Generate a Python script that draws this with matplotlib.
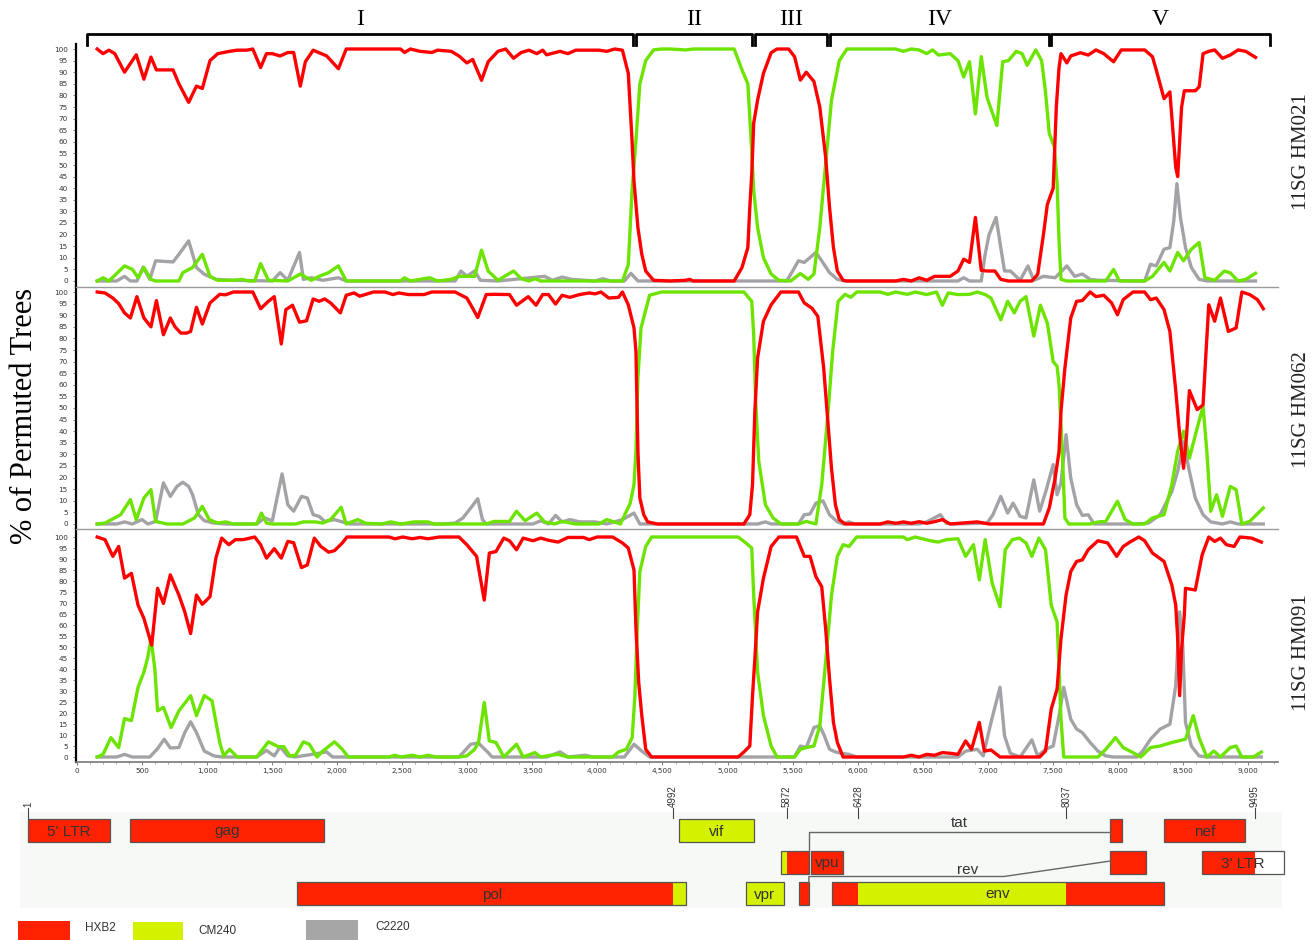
import matplotlib
matplotlib.use("Agg")
import matplotlib.pyplot as plt
from matplotlib.patches import Rectangle
from matplotlib.ticker import MultipleLocator, FuncFormatter

W, H = 1314, 940

# bootscan values (% of permuted trees) per query sequence
P1_RED = [(155, 100), (200, 98), (245, 99.5), (290, 98), (365, 90), (455, 97.5), (514, 87), (568, 96.5),
          (610, 91), (738, 91), (783, 85), (858, 77), (918, 84), (963, 83), (1022, 95), (1082, 98),
          (1172, 99), (1232, 99.5), (1306, 99.5), (1351, 100), (1411, 92), (1456, 98), (1501, 98),
          (1561, 97), (1620, 98.5), (1665, 98.5), (1716, 84), (1755, 94.5), (1815, 99.5), (1919, 97),
          (2009, 91.5), (2069, 100), (2487, 100), (2517, 98.5), (2562, 100), (2637, 99), (2727, 98.5),
          (2771, 99.5), (2876, 99), (2936, 97), (2996, 94), (3041, 95.5), (3109, 86.5), (3160, 94.5),
          (3235, 99), (3295, 100), (3355, 96), (3414, 98.5), (3474, 99.5), (3534, 98), (3579, 99.5),
          (3609, 97.5), (3713, 99), (3773, 98), (3833, 99.5), (4012, 99.5), (4072, 99), (4132, 100),
          (4192, 99.5), (4237, 89.5), (4266, 60.5), (4281, 43), (4311, 23), (4341, 11.5), (4371, 4.3),
          (4431, 0.3), (4558, 0), (4678, 0.3), (4708, 0.7), (4738, 0), (5051, 0), (5111, 5.8),
          (5156, 14.4), (5171, 31.7), (5186, 46), (5201, 68), (5231, 78), (5276, 89.5), (5335, 98.4),
          (5380, 100), (5470, 100), (5515, 96.7), (5560, 86.6), (5605, 90), (5664, 86), (5709, 75),
          (5754, 53.4), (5784, 31.7), (5814, 14.4), (5844, 4.3), (5888, 0.3), (5918, 0), (6292, 0),
          (6352, 0.7), (6412, 0), (6472, 1.4), (6531, 0.3), (6591, 2), (6711, 2), (6771, 4.3),
          (6815, 9.4), (6860, 8), (6905, 27.4), (6950, 4.6), (6995, 4.3), (7055, 4.3), (7100, 0.7),
          (7159, 0), (7339, 0), (7384, 2.9), (7428, 20), (7458, 33), (7503, 40), (7527, 75), (7548, 92),
          (7563, 98), (7608, 94), (7638, 97), (7712, 98.4), (7772, 97.4), (7832, 99.6), (7892, 98),
          (7967, 94.5), (8026, 99.6), (8206, 99.6), (8266, 96.7), (8295, 91), (8355, 78.6), (8400, 81.5),
          (8445, 49), (8460, 45), (8490, 75), (8511, 82), (8595, 82), (8625, 83.7), (8655, 98),
          (8699, 99), (8744, 99.6), (8804, 96), (8864, 97.4), (8924, 99.6), (8983, 99), (9058, 96.4)]
P1_GREEN = [(155, 0), (200, 1.4), (245, 0), (365, 6.5), (425, 5), (470, 1.4), (514, 5.8), (568, 0.7),
            (604, 0), (783, 0), (813, 3.6), (888, 5.8), (963, 11.5), (1022, 2), (1082, 0.3), (1202, 0.3),
            (1262, 0.7), (1322, 0), (1366, 0), (1411, 7.5), (1471, 0.3), (1620, 0), (1716, 3),
            (1800, 0.3), (1860, 2), (1934, 3.6), (2009, 6.5), (2069, 0), (2487, 0), (2517, 1.4),
            (2562, 0), (2712, 1.4), (2771, 0), (2876, 0.7), (2936, 2), (3056, 2), (3109, 13.3),
            (3160, 4.3), (3235, 0.3), (3355, 4.3), (3414, 1), (3474, 0), (3519, 1), (3564, 0), (4192, 0),
            (4237, 7), (4266, 39), (4296, 60.6), (4326, 85), (4371, 95), (4431, 99.6), (4491, 100),
            (4558, 100), (4678, 99.6), (4738, 100), (5051, 100), (5111, 91), (5156, 85), (5186, 56),
            (5201, 39), (5231, 23), (5276, 10), (5335, 3), (5395, 0.3), (5485, 0), (5560, 3.2),
            (5620, 0.7), (5664, 3), (5709, 23), (5754, 50.5), (5799, 78), (5859, 95), (5918, 100),
            (6292, 100), (6352, 99), (6412, 100), (6472, 99.6), (6531, 98), (6576, 99.6), (6621, 97.4),
            (6711, 98), (6771, 95), (6815, 88), (6860, 94.5), (6905, 72), (6950, 96.7), (6995, 79),
            (7070, 67), (7115, 94.5), (7159, 95), (7219, 99), (7264, 98), (7303, 93), (7369, 99.6),
            (7414, 95), (7443, 82), (7473, 63.6), (7512, 57.7), (7533, 42), (7548, 17.3), (7563, 0.7),
            (7608, 0), (7907, 0), (7967, 5), (8012, 0), (8206, 0), (8266, 2), (8355, 8), (8400, 4.3),
            (8460, 12.3), (8505, 8.7), (8565, 13.7), (8625, 16.6), (8669, 1.4), (8744, 0.3),
            (8819, 4.3), (8864, 3.5), (8924, 0), (8983, 0.7), (9058, 3.3)]
P1_GRAY = [(155, 0), (305, 0), (365, 2), (410, 0), (460, 0), (508, 6), (559, 0.7), (604, 8.7), (738, 8.2),
           (783, 11.5), (858, 17.3), (918, 5.8), (978, 2.9), (1067, 0.7), (1202, 0.3), (1501, 0),
           (1561, 3.6), (1620, 0.3), (1710, 12.3), (1740, 0.7), (1800, 1.4), (1889, 0.3), (2009, 1.4),
           (2069, 0), (2906, 0), (2951, 4.3), (2996, 2), (3056, 4.3), (3100, 0.3), (3235, 0), (3594, 2),
           (3654, 0.3), (3728, 1.7), (3803, 0.7), (3982, 0), (4042, 1), (4102, 0), (4207, 0), (4257, 3.3),
           (4311, 0), (5455, 0), (5500, 4.3), (5545, 8.7), (5590, 8), (5679, 12.3), (5724, 8.7),
           (5784, 3.6), (5844, 0.7), (5903, 0), (6771, 0), (6815, 1.4), (6860, 0), (6950, 0), (6980, 11.5),
           (7010, 20), (7064, 27.4), (7100, 14.4), (7129, 4.3), (7174, 4.3), (7249, 0.3), (7309, 6.5),
           (7354, 0.3), (7428, 2), (7518, 1.4), (7608, 6.5), (7668, 2), (7727, 3), (7787, 0.7),
           (7847, 0.3), (8206, 0), (8251, 7.2), (8295, 6.5), (8355, 13.7), (8400, 14.4), (8430, 26),
           (8454, 42), (8481, 27.4), (8520, 14.4), (8565, 5.8), (8625, 0.7), (8684, 0), (9058, 0)]

P2_RED = [(155, 100), (215, 99.6), (275, 97.4), (320, 95), (365, 91), (410, 88.8), (460, 98), (514, 88.8),
          (568, 85), (610, 96.3), (664, 81.6), (717, 88.8), (753, 85), (798, 82.3), (843, 82.3), (873, 83),
          (918, 93.4), (963, 86.2), (1022, 95.3), (1097, 99), (1142, 98.8), (1202, 100), (1351, 100),
          (1411, 92.8), (1471, 96), (1516, 98), (1570, 77.6), (1605, 92.4), (1656, 94.3), (1710, 87),
          (1764, 87.6), (1815, 97), (1860, 96), (1904, 97), (1949, 95.3), (2024, 91), (2069, 98.6),
          (2129, 99.6), (2173, 98.2), (2278, 100), (2368, 100), (2428, 98.9), (2473, 99.6), (2547, 98.9),
          (2667, 98.9), (2727, 100), (2906, 100), (2996, 97.4), (3041, 93), (3080, 89), (3145, 98.9),
          (3205, 99), (3324, 98.9), (3378, 94.3), (3468, 98), (3528, 94.3), (3579, 98.9), (3624, 98.9),
          (3678, 94.8), (3728, 98.6), (3788, 97.7), (3863, 98.9), (3937, 99.6), (3982, 99.2), (4027, 100),
          (4087, 97.4), (4162, 97.7), (4192, 100), (4237, 94.5), (4281, 84.5), (4296, 74.4), (4311, 31.3),
          (4326, 11.2), (4356, 4), (4386, 0.9), (4461, 0), (5126, 0), (5171, 4), (5192, 17), (5210, 48.6),
          (5231, 71.6), (5276, 87.4), (5335, 94.5), (5410, 100), (5545, 100), (5590, 95.3), (5649, 93),
          (5694, 89.5), (5739, 67.2), (5769, 45.7), (5799, 24), (5829, 8.3), (5859, 1.9), (5903, 0),
          (6173, 0), (6232, 0.9), (6292, 0.3), (6352, 0.9), (6412, 0.3), (6472, 1), (6531, 0.3),
          (6591, 1), (6651, 1.9), (6711, 0), (6920, 0.9), (7010, 0), (7428, 0), (7473, 6.9), (7518, 19.8),
          (7548, 31.3), (7563, 48.6), (7593, 67.2), (7638, 88.8), (7683, 96), (7727, 96.3), (7787, 100),
          (7832, 98), (7892, 98.6), (7952, 95.3), (7997, 90.2), (8041, 96.7), (8116, 100), (8206, 100),
          (8251, 96.7), (8295, 97.4), (8355, 92.4), (8400, 83), (8445, 57.5), (8475, 38.5), (8505, 24),
          (8529, 38.5), (8550, 57.5), (8610, 49.3), (8655, 51.4), (8678, 74.4), (8699, 94.5),
          (8744, 87.4), (8789, 97.4), (8849, 83), (8909, 84.5), (8953, 100), (9013, 98.9), (9073, 96.7),
          (9118, 92.8)]
P2_GREEN = [(155, 0), (215, 0.4), (335, 4), (410, 10.5), (455, 1.9), (514, 11.2), (568, 14.8), (604, 1.1),
            (693, 0), (813, 0), (903, 2.6), (963, 7.6), (1016, 1.9), (1082, 0.4), (1142, 0.9), (1202, 0),
            (1381, 0), (1417, 4.7), (1456, 0.4), (1501, 0), (1680, 0), (1740, 0.9), (1830, 0.9),
            (1889, 0.4), (1949, 1.9), (2030, 7.2), (2069, 0), (2158, 1.9), (2218, 0.3), (2338, 0),
            (2413, 0.9), (2488, 0), (2592, 0.9), (2697, 0.9), (2742, 0), (3145, 0), (3205, 1.1),
            (3324, 1.1), (3378, 5.5), (3444, 1.4), (3534, 4.7), (3594, 0.9), (3669, 0), (3728, 1.1),
            (3833, 0), (4012, 0), (4072, 1.9), (4177, 0), (4252, 9), (4281, 17), (4296, 31.3), (4311, 63),
            (4335, 84.5), (4401, 98.6), (4491, 100), (5126, 100), (5186, 96), (5201, 81.6), (5216, 52.9),
            (5240, 27), (5291, 8.3), (5350, 2.6), (5410, 0), (5545, 0), (5605, 1.1), (5679, 0), (5724, 17),
            (5769, 45.7), (5808, 74.4), (5850, 96), (5903, 99), (5948, 97.7), (5993, 100), (6173, 100),
            (6232, 99), (6292, 100), (6382, 99), (6442, 100), (6531, 98.9), (6606, 100), (6651, 94.3),
            (6696, 99.6), (6771, 98.9), (6860, 99), (6920, 100), (6980, 98.9), (7025, 97.4), (7100, 88),
            (7153, 96), (7204, 91), (7249, 96), (7294, 98), (7354, 81), (7405, 94.3), (7458, 86.6),
            (7503, 70), (7533, 68), (7548, 60), (7563, 42.8), (7578, 24), (7593, 2.6), (7623, 0),
            (7787, 0), (7847, 0.9), (7907, 1.1), (7997, 9.8), (8056, 1.9), (8116, 0), (8206, 0),
            (8266, 2.6), (8355, 4), (8415, 17), (8460, 31.3), (8505, 40), (8550, 28.4), (8610, 41.4),
            (8655, 50.7), (8684, 31.3), (8714, 5.5), (8759, 12.6), (8804, 3.3), (8864, 16.2),
            (8909, 14.8), (8953, 0), (9013, 1.1), (9118, 6.9)]
P2_GRAY = [(155, 0), (305, 0), (365, 0.9), (425, 0), (499, 1.9), (544, 0), (604, 1.1), (664, 17.7),
           (717, 11.9), (768, 16.2), (813, 18), (858, 16.2), (888, 12.6), (933, 4), (978, 1.4), (1052, 0.4),
           (1142, 0), (1381, 0), (1441, 2.6), (1501, 1.4), (1576, 21.6), (1620, 8.3), (1665, 5.5),
           (1725, 11.9), (1770, 11.2), (1815, 4), (1860, 3.3), (1904, 1.1), (1979, 1.9), (2039, 0.9),
           (2099, 0), (2816, 0), (2906, 0.4), (2966, 2.6), (3026, 6.9), (3080, 10.9), (3116, 1.9),
           (3145, 0), (3504, 0), (3564, 1.4), (3624, 0), (3678, 3.7), (3728, 0.9), (3788, 1.9),
           (3863, 0.9), (3982, 0.9), (4072, 0), (4192, 1.9), (4281, 4.7), (4326, 0), (5230, 0),
           (5291, 0.9), (5335, 0), (5545, 0), (5590, 4), (5634, 4.3), (5679, 9), (5733, 10), (5784, 4),
           (5844, 0.9), (5888, 0), (5933, 0.9), (5978, 0), (6471, 0), (6531, 0.9), (6636, 4), (6681, 0.3),
           (6741, 0), (6995, 0.4), (7040, 4), (7100, 11.9), (7153, 4.7), (7195, 9), (7249, 3.3),
           (7294, 2.6), (7354, 19), (7399, 5.5), (7443, 13.4), (7503, 25.6), (7533, 12.6), (7563, 17.7),
           (7602, 38.5), (7638, 19.8), (7683, 8.3), (7727, 3.7), (7772, 4), (7817, 0), (8146, 0),
           (8236, 0.4), (8325, 4), (8415, 14), (8460, 22.7), (8505, 35.6), (8550, 22.7), (8595, 11.2),
           (8655, 4), (8714, 0.9), (8804, 0), (8864, 0.9), (8924, 0), (9118, 0)]

P3_RED = [(155, 100), (215, 98.8), (275, 91.2), (320, 95.7), (365, 81.3), (418, 83.5), (469, 69), (514, 63),
          (544, 56.9), (574, 50.8), (619, 76.7), (664, 69.8), (717, 82.8), (783, 73.6), (828, 66),
          (873, 56.1), (918, 73.6), (963, 69.4), (1022, 72.9), (1067, 90.4), (1112, 99.5), (1166, 96.5),
          (1217, 98.8), (1277, 98.8), (1366, 100), (1411, 96.5), (1456, 90.4), (1516, 94.7), (1570, 90.4),
          (1620, 98), (1665, 97.4), (1725, 86.1), (1770, 87.3), (1824, 99.5), (1874, 95.7), (1934, 93.1),
          (1979, 93.8), (2039, 97.3), (2075, 100), (2398, 100), (2443, 99.2), (2503, 100), (2577, 99.2),
          (2637, 99.8), (2697, 99.2), (2786, 100), (2936, 100), (2996, 96.5), (3071, 91.2), (3100, 81.3),
          (3130, 71.3), (3169, 92.7), (3220, 93.4), (3280, 99.5), (3324, 98.3), (3378, 94.2), (3429, 99.5),
          (3504, 98.3), (3564, 99.5), (3624, 98.5), (3698, 97.7), (3773, 99.8), (3893, 99.8), (3937, 98.8),
          (3997, 100), (4117, 100), (4192, 97.3), (4237, 95), (4281, 85), (4296, 58.4), (4317, 34),
          (4341, 18.8), (4371, 3.5), (4416, 0), (5081, 0), (5126, 2.3), (5171, 5), (5192, 27.9),
          (5210, 44.7), (5231, 66), (5276, 81.3), (5335, 95.7), (5395, 100), (5530, 100), (5590, 91.2),
          (5634, 91.2), (5679, 82), (5724, 77.4), (5754, 58.4), (5784, 35.5), (5814, 15.7), (5844, 6.6),
          (5888, 0), (6352, 0), (6412, 0.8), (6472, 0), (6531, 1.2), (6591, 0.8), (6651, 2), (6711, 1.7),
          (6771, 1.2), (6830, 7.3), (6875, 3.5), (6935, 15.7), (6974, 2.7), (7025, 3.2), (7094, 0),
          (7399, 0), (7444, 2.7), (7488, 21.8), (7533, 30.9), (7563, 53.8), (7602, 73.6), (7638, 84.3),
          (7683, 88.9), (7727, 89.6), (7772, 94.2), (7847, 98.3), (7922, 97.3), (7991, 91.2), (8041, 95.7),
          (8101, 98), (8161, 100), (8206, 98.3), (8266, 92.7), (8355, 88.9), (8415, 78.2), (8445, 69),
          (8460, 53.8), (8475, 27.9), (8490, 49.2), (8511, 64.5), (8520, 76.7), (8595, 75.9),
          (8648, 91.9), (8699, 100), (8744, 98), (8789, 99.5), (8834, 96.5), (8894, 95.7), (8938, 100),
          (9028, 99.5), (9103, 97.7)]
P3_GREEN = [(155, 0), (200, 1.2), (260, 8.8), (320, 4.3), (365, 17.5), (418, 16.5), (469, 31.7),
            (514, 38.6), (544, 45.4), (568, 53.8), (598, 40.1), (619, 21), (664, 22.6), (723, 13.4),
            (783, 21), (873, 27.9), (918, 18.8), (978, 27.9), (1037, 25.6), (1097, 6.6), (1127, 0.5),
            (1172, 3.5), (1232, 0), (1381, 0), (1471, 6.9), (1546, 4.7), (1590, 4.7), (1635, 0.5),
            (1680, 0.8), (1740, 6.9), (1785, 5.8), (1845, 0), (1889, 2.7), (1979, 6.9), (2039, 3.5),
            (2084, 0), (2398, 0), (2443, 0.8), (2488, 0), (2577, 0.8), (2637, 0), (2697, 0.8), (2757, 0),
            (2936, 0), (2996, 0.5), (3056, 3.5), (3086, 6.6), (3130, 24.8), (3169, 7.3), (3220, 6.6),
            (3280, 0), (3378, 5.8), (3429, 0), (3519, 2), (3564, 0), (3639, 0.8), (3698, 1.2), (3773, 0),
            (4117, 0), (4162, 2.3), (4222, 3.5), (4267, 8.8), (4288, 27.9), (4306, 58.4), (4326, 84.3),
            (4371, 95.7), (4416, 100), (5081, 100), (5141, 97.3), (5186, 95), (5201, 73.6), (5231, 38.6),
            (5276, 18.8), (5335, 5), (5380, 0), (5515, 0), (5560, 3.5), (5605, 4.3), (5664, 5),
            (5709, 14.2), (5754, 43.1), (5799, 73.6), (5844, 91.2), (5888, 96.5), (5933, 95.7),
            (5993, 100), (6352, 100), (6382, 98.8), (6442, 100), (6561, 98.3), (6621, 97.7), (6681, 98.8),
            (6771, 99.2), (6830, 91.2), (6890, 96.5), (6935, 80.5), (6980, 98.8), (7034, 79), (7094, 68.3),
            (7135, 94.2), (7189, 98.8), (7243, 99.5), (7294, 97.3), (7339, 91.2), (7393, 99.5),
            (7444, 94.2), (7488, 69), (7533, 61.4), (7548, 40.1), (7563, 17.2), (7584, 0), (7847, 0),
            (7907, 3.5), (7982, 8.8), (8041, 4.3), (8116, 2), (8176, 0), (8251, 4.3), (8325, 5),
            (8415, 6.6), (8520, 8.1), (8580, 18.8), (8624, 8.8), (8684, 0), (8738, 2.7), (8789, 0),
            (8864, 4.3), (8909, 5), (8953, 0), (9043, 0), (9103, 2.3)]
P3_GRAY = [(155, 0), (305, 0), (365, 1.2), (425, 0), (559, 0), (619, 3.8), (670, 8.1), (717, 4.1),
           (783, 4.3), (828, 11.1), (873, 16), (918, 11.1), (978, 2.7), (1052, 0.5), (1112, 0), (1381, 0),
           (1456, 3), (1516, 0.5), (1561, 4.6), (1620, 0.5), (1680, 0), (1919, 2.3), (1964, 0), (2936, 0),
           (3026, 5.8), (3086, 6.3), (3160, 2), (3190, 0), (3609, 0), (3713, 2.3), (3773, 0), (3908, 0.8),
           (3967, 0), (4207, 0), (4281, 5.8), (4341, 2.7), (4401, 0), (5515, 0), (5560, 5), (5605, 4.3),
           (5664, 13.4), (5709, 14.2), (5739, 10.4), (5784, 3.5), (5829, 2.3), (5874, 1.7), (5933, 1.2),
           (5993, 0), (6771, 0), (6830, 2.7), (6920, 3.5), (6965, 0.5), (7025, 15.7), (7094, 31.7),
           (7129, 9.6), (7174, 1.7), (7249, 0), (7339, 7.8), (7384, 0.5), (7444, 3.5), (7503, 5),
           (7548, 18.8), (7584, 31.7), (7638, 17.2), (7683, 12.7), (7727, 11.1), (7787, 6.6), (7847, 2.7),
           (7907, 0.5), (7967, 0), (8146, 0), (8191, 2.7), (8251, 8.1), (8325, 12.7), (8400, 14.9),
           (8445, 32.5), (8475, 66), (8499, 50.8), (8520, 15.7), (8565, 5), (8624, 0.5), (8684, 0),
           (9103, 0)]

SAMPLES = ["11SG HM021", "11SG HM062", "11SG HM091"]
REGIONS = [("I", 77, 4274), ("II", 4297, 5188), ("III", 5211, 5765), ("IV", 5788, 7471), ("V", 7487, 9170)]

# HXB2 genome map: (label, row, start, end)
GENES = [("5' LTR", 0, 1, 634), ("gag", 0, 790, 2292), ("vif", 0, 5041, 5619), ("", 0, 8379, 8469),
         ("nef", 0, 8797, 9417), ("", 1, 5831, 6045), ("vpu", 1, 6062, 6310), ("", 1, 8379, 8653),
         ("3' LTR", 1, 9086, 9719), ("pol", 2, 2085, 5096), ("vpr", 2, 5559, 5850), ("", 2, 5970, 6045),
         ("env", 2, 6225, 8795)]
BREAKPOINTS = [1, 4992, 5872, 6428, 8037, 9495, 9719]
SEGMENT_PARENT = ["HXB2", "CM240", "HXB2", "CM240", "HXB2", None]
MAP_TICKS = [1, 4992, 5872, 6428, 8037, 9495]
LEGEND_NAMES = ["HXB2", "CM240", "C2220"]

LINE_COLORS = {"red": "#ff0000", "green": "#6ce400", "gray": "#a3a3a7"}
FILL = {"HXB2": "#ff2200", "CM240": "#d4f200", "C2220": "#a6a6a6", None: "white"}
SERIF = ["Liberation Serif", "DejaVu Serif"]
SANS = ["Liberation Sans", "DejaVu Sans"]


def px_box(left, top, right, bottom):
    return [left / W, 1 - bottom / H, (right - left) / W, (bottom - top) / H]


def draw_panel(ax, red, green, gray, ylim):
    for series, name in [(gray, "gray"), (green, "green"), (red, "red")]:
        xs, ys = zip(*series)
        ax.plot(xs, ys, color=LINE_COLORS[name], lw=2.4, solid_joinstyle="round")
    ax.set_xlim(-8, 9231)
    ax.set_ylim(*ylim)
    ax.set_yticks(range(0, 101, 5))
    ax.tick_params(axis="y", length=2, width=0.6, color="#666", labelsize=5.2,
                   labelcolor="#333", pad=4)
    for side in ["top", "right", "bottom"]:
        ax.spines[side].set_visible(False)
    ax.spines["left"].set_linewidth(1.6)
    ax.spines["left"].set_color("black")


fig = plt.figure(figsize=(W / 100, H / 100), dpi=100)
panel_boxes = [(44, 287), (287, 529), (529, 762)]
panel_ylims = [(-2.59, 102.16), (-2.16, 102.16), (-2.27, 103.64)]
series = [(P1_RED, P1_GREEN, P1_GRAY), (P2_RED, P2_GREEN, P2_GRAY), (P3_RED, P3_GREEN, P3_GRAY)]
axes = []
for i, ((top, bottom), ylim, (r, g, k)) in enumerate(zip(panel_boxes, panel_ylims, series)):
    ax = fig.add_axes(px_box(76, top, 1278, bottom))
    draw_panel(ax, r, g, k, ylim)
    if i > 0:
        ax.spines["top"].set_visible(True)
        ax.spines["top"].set_color("#9a9a9a")
        ax.spines["top"].set_linewidth(1.0)
    if i < 2:
        ax.set_xticks([])
    axes.append(ax)
    fig.text(1301 / W, 1 - [152, 410, 653][i] / H, SAMPLES[i], rotation=90, ha="center", va="center",
             fontsize=15, family=SERIF, color="#222")

ax3 = axes[2]
ax3.spines["bottom"].set_visible(True)
ax3.spines["bottom"].set_color("#777")
ax3.spines["bottom"].set_linewidth(1.2)
ax3.xaxis.set_major_locator(MultipleLocator(500))
ax3.xaxis.set_minor_locator(MultipleLocator(100))
ax3.xaxis.set_major_formatter(FuncFormatter(lambda v, p: f"{int(v):,}"))
ax3.tick_params(axis="x", which="major", length=2.5, width=0.6, color="#666", labelsize=5.2,
                labelcolor="#333", pad=2)
ax3.tick_params(axis="x", which="minor", length=1.5, width=0.5, color="#888")

# region brackets above the first panel
ax1 = axes[0]
for label, x0, x1 in REGIONS:
    ax1.plot([x0, x0, x1, x1], [101.7, 106.5, 106.5, 101.7], color="black", lw=2, clip_on=False)
    ax1.text((x0 + x1) / 2, 112.6, label, ha="center", va="center", fontsize=17, family=SERIF)

fig.text(25 / W, 1 - 416 / H, "% of Permuted Trees", rotation=90, ha="center", va="center",
         fontsize=22, family=SERIF)

# genome map
axg = fig.add_axes(px_box(0, 770, W, 940))
axg.set_xlim(-215.7, 9954.6)
axg.set_ylim(940, 770)
axg.axis("off")
axg.add_patch(Rectangle((-61, 812), 9767, 96, facecolor="#f6f9f6", edgecolor="none"))

row_top = [819, 851, 882]
box_h = 23
for label, row, start, end in GENES:
    y = row_top[row]
    for b0, b1, parent in zip(BREAKPOINTS[:-1], BREAKPOINTS[1:], SEGMENT_PARENT):
        s, e = max(start, b0), min(end, b1)
        if e > s:
            axg.add_patch(Rectangle((s, y), e - s, box_h, facecolor=FILL[parent], edgecolor="none"))
    axg.add_patch(Rectangle((start, y), end - start, box_h, facecolor="none", edgecolor="#555", lw=0.9))
    if label:
        axg.text((start + end) / 2, y + box_h / 2 + 1, label, ha="center", va="center",
                 fontsize=11, family=SANS, color="#333")

# tat / rev splice connectors
tat_x = [6045, 6045, 8379]
tat_y = [851, 832, 832]
rev_x = [6045, 6045, 7555, 8379]
rev_y = [882, 876.5, 876.5, 861]
axg.plot(tat_x, tat_y, color="#666", lw=1)
axg.plot(rev_x, rev_y, color="#666", lw=1)
axg.text((6045 + 8379) / 2, 823, "tat", ha="center", va="center", fontsize=11, family=SANS, color="#333")
axg.text((6045 + 8379) / 2 + 60, 870, "rev", ha="center", va="center", fontsize=11, family=SANS, color="#333")

for pos in MAP_TICKS:
    axg.plot([pos, pos], [808, 818], color="#444", lw=0.8)
    axg.text(pos, 807, str(pos), rotation=90, ha="center", va="bottom", fontsize=7,
             family=SANS, color="#333")

# legend
legend_rects = [(18, 921, 52), (133, 922, 50), (306, 920, 52)]
legend_text = [(85, 928), (198, 931), (375, 927)]
for name, (lx, ly, lw_), (tx, ty) in zip(LEGEND_NAMES, legend_rects, legend_text):
    fig.patches.append(Rectangle((lx / W, 1 - (ly + 25) / H), lw_ / W, 25 / H, transform=fig.transFigure,
                                 facecolor=FILL[name], edgecolor="none"))
    fig.text(tx / W, 1 - ty / H, name, ha="left", va="center", fontsize=8.5, family=SANS, color="#333")

fig.savefig("out.png", dpi=100)
